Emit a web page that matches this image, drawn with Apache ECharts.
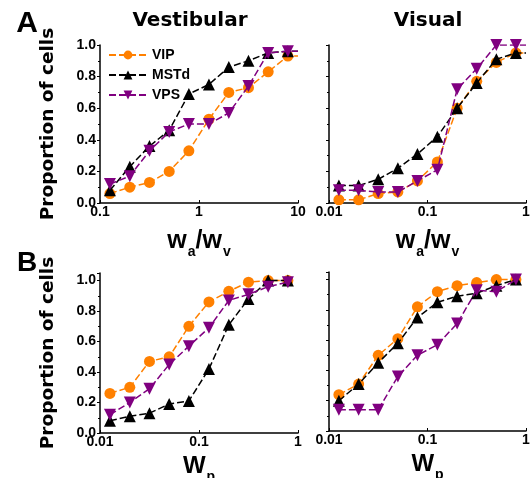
<!DOCTYPE html>
<html><head><meta charset="utf-8">
<script src="https://cdn.jsdelivr.net/npm/echarts@6/dist/echarts.min.js"></script>
<style>html,body{margin:0;padding:0;background:#fff}#c{width:532px;height:478px}</style>
</head><body><div id="c"></div>
<script>
// ---------- data ----------
const seriesNames = ['VIP', 'MSTd', 'VPS'];
const xVestA = [0.126, 0.2, 0.316, 0.5, 0.79, 1.26, 2, 3.16, 5, 7.9];      // w_a / w_v
const xVisA  = [0.0126, 0.02, 0.0316, 0.05, 0.079, 0.126, 0.2, 0.316, 0.5, 0.79];
const xB     = [0.0126, 0.02, 0.0316, 0.05, 0.079, 0.126, 0.2, 0.316, 0.5, 0.79]; // W_p

const aVestVIP  = [0.06, 0.10, 0.13, 0.20, 0.33, 0.53, 0.70, 0.73, 0.83, 0.93];
const aVestMSTd = [0.08, 0.23, 0.36, 0.46, 0.69, 0.75, 0.86, 0.90, 0.95, 0.96];
const aVestVPS  = [0.12, 0.17, 0.33, 0.45, 0.50, 0.50, 0.57, 0.74, 0.95, 0.96];

const aVisVIP   = [0.02, 0.02, 0.06, 0.07, 0.14, 0.26, 0.60, 0.77, 0.89, 0.95];
const aVisMSTd  = [0.11, 0.11, 0.15, 0.22, 0.31, 0.42, 0.60, 0.76, 0.91, 0.95];
const aVisVPS   = [0.08, 0.08, 0.07, 0.07, 0.14, 0.21, 0.72, 0.85, 1.00, 1.00];

const bVestVIP  = [0.26, 0.30, 0.47, 0.50, 0.70, 0.86, 0.93, 0.99, 1.00, 1.00];
const bVestMSTd = [0.08, 0.11, 0.13, 0.19, 0.21, 0.42, 0.71, 0.88, 1.00, 1.00];
const bVestVPS  = [0.12, 0.20, 0.29, 0.45, 0.57, 0.69, 0.87, 0.91, 0.96, 0.99];

const bVisVIP   = [0.24, 0.31, 0.50, 0.61, 0.82, 0.92, 0.96, 0.98, 1.00, 1.00];
const bVisMSTd  = [0.20, 0.31, 0.45, 0.58, 0.75, 0.85, 0.89, 0.91, 0.96, 1.00];
const bVisVPS   = [0.14, 0.14, 0.14, 0.36, 0.50, 0.57, 0.71, 0.93, 0.92, 1.00];

const yTicks = [0.0, 0.2, 0.4, 0.6, 0.8, 1.0];

// ---------- layout / style ----------
const FONT = 'Liberation Sans, Arial, sans-serif';
const WIDE = 'DejaVu Sans, sans-serif';
const panels = [
  {x: xVestA, ys: [aVestVIP, aVestMSTd, aVestVPS], xmin: 0.1, xmax: 10, ymax: 1.0, extend: true,
   grid: {left: 100, top: 45, width: 198, height: 158}, yLabel: true, xname: 'wa'},
  {x: xVisA, ys: [aVisVIP, aVisMSTd, aVisVPS], xmin: 0.01, xmax: 1, ymax: 1.0, extend: true,
   grid: {left: 329, top: 45, width: 197, height: 158}, yLabel: false, xname: 'wa'},
  {x: xB, ys: [bVestVIP, bVestMSTd, bVestVPS], xmin: 0.01, xmax: 1, ymax: 1.05, extend: false,
   grid: {left: 100, top: 273, width: 198, height: 160}, yLabel: true, xname: 'wp'},
  {x: xB, ys: [bVisVIP, bVisMSTd, bVisVPS], xmin: 0.01, xmax: 1, ymax: 1.05, extend: false,
   grid: {left: 329, top: 272, width: 197, height: 159}, yLabel: false, xname: 'wp'}
];
const styles = [
  {color: '#FF8000', symbol: 'circle', size: 11, rot: 0},
  {color: '#000000', symbol: 'triangle', size: 12, rot: 0},
  {color: '#800080', symbol: 'triangle', size: 12, rot: 180}
];

const rich = {
  w: {fontSize: 25, fontWeight: 'bold', color: '#000', fontFamily: FONT, lineHeight: 26, verticalAlign: 'top'},
  W: {fontSize: 24, fontWeight: 'bold', color: '#000', fontFamily: FONT, lineHeight: 26, verticalAlign: 'top'},
  s: {fontSize: 14, fontWeight: 'bold', color: '#000', fontFamily: FONT, lineHeight: 14,
      verticalAlign: 'top', padding: [16, 0, 0, 1]}
};
const xNames = {wa: '{w|w}{s|a}{w|/w}{s|v}', wp: '{W|W}{s|p}'};

const grids = [], xAxes = [], yAxes = [], series = [];
panels.forEach((p, i) => {
  grids.push(Object.assign({containLabel: false, outerBoundsMode: 'none'}, p.grid));
  xAxes.push({
    type: 'log', logBase: 10, gridIndex: i, min: p.xmin, max: p.xmax,
    axisLine: {onZero: false, lineStyle: {color: '#000', width: 1.5}},
    axisTick: {inside: true, length: 3, lineStyle: {color: '#000', width: 1}},
    splitLine: {show: false},
    axisLabel: {color: '#000', fontWeight: 'bold', fontSize: 14, fontFamily: FONT, margin: 2,
      formatter: v => String(parseFloat(Number(v).toPrecision(2)))},
    name: xNames[p.xname], nameLocation: 'middle', nameGap: p.xname === 'wa' ? 26 : 21,
    nameTextStyle: {rich: rich}
  });
  yAxes.push({
    type: 'value', gridIndex: i, min: 0, max: p.ymax, interval: 0.2,
    axisLine: {show: true, lineStyle: {color: '#000', width: 1.5}},
    axisTick: {show: true, inside: false, length: 3, lineStyle: {color: '#000', width: 1}},
    minorTick: {show: true, splitNumber: 2, length: 2, lineStyle: {color: '#000', width: 1}},
    splitLine: {show: false},
    axisLabel: {show: p.yLabel, color: '#000', fontWeight: 'bold', fontSize: 14, fontFamily: FONT, margin: 4,
      formatter: v => yTicks.some(t => Math.abs(t - v) < 1e-6) ? v.toFixed(1) : ''},
    name: p.yLabel ? 'Proportion of cells' : '', nameLocation: 'middle', nameGap: 42,
    nameTextStyle: {color: '#000', fontWeight: 'bold', fontSize: 18.5, fontFamily: WIDE}
  });
  p.ys.forEach((vals, k) => {
    const st = styles[k];
    const data = p.x.map((xv, j) => [xv, vals[j]]);
    if (p.extend) data.push({value: [p.xmax, vals[vals.length - 1]], symbol: 'none'});
    series.push({
      name: seriesNames[k], type: 'line', xAxisIndex: i, yAxisIndex: i,
      data: data, symbol: st.symbol, symbolSize: st.size, symbolRotate: st.rot,
      showSymbol: true, color: st.color,
      itemStyle: {color: st.color},
      lineStyle: {color: st.color, width: 1.5, type: [7, 3]},
      z: 2 + k, animation: false
    });
  });
});

const txt = (text, x, y, size, fam) => ({type: 'text', x: x, y: y,
  style: {text: text, fill: '#000', font: 'bold ' + size + 'px ' + fam, textAlign: 'center', textVerticalAlign: 'middle'}});

const option = {
  backgroundColor: '#fff',
  animation: false,
  grid: grids, xAxis: xAxes, yAxis: yAxes, series: series,
  legend: {
    data: seriesNames.map(n => ({name: n})), orient: 'vertical', left: 103, top: 43,
    itemWidth: 38, itemHeight: 11, itemGap: 6,
    textStyle: {color: '#000', fontWeight: 'bold', fontSize: 14, fontFamily: FONT}
  },
  graphic: [
    txt('Vestibular', 190, 21, 20, WIDE),
    txt('Visual', 428, 21, 20, WIDE),
    txt('A', 27, 24, 30, FONT),
    txt('B', 27, 263, 28, FONT)
  ]
};
const chart = echarts.init(document.getElementById('c'), null, {renderer: 'canvas'});
chart.setOption(option);
</script></body></html>
